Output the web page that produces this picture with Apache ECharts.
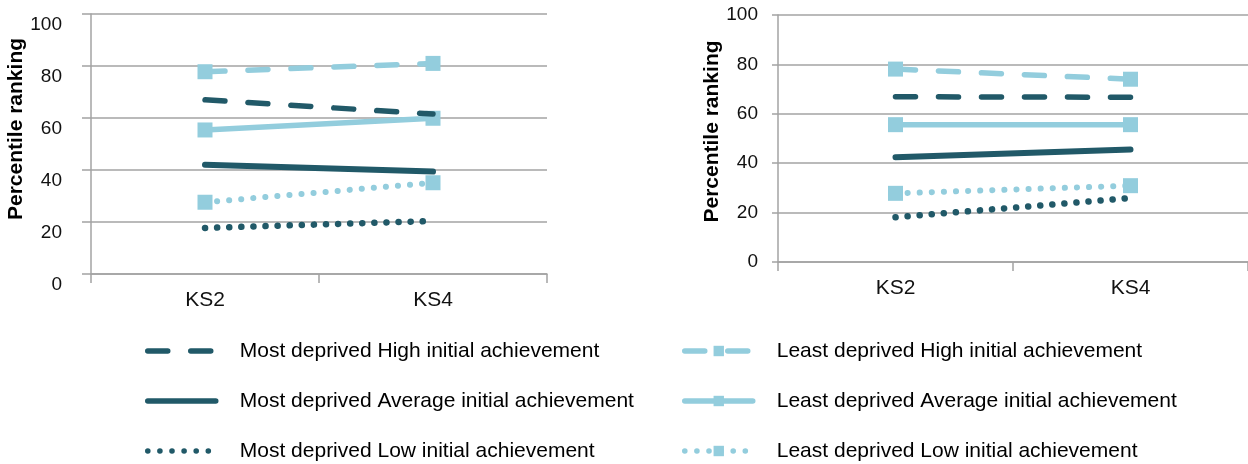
<!DOCTYPE html>
<html>
<head>
<meta charset="utf-8">
<script src="https://cdn.jsdelivr.net/npm/echarts@6/dist/echarts.min.js"></script>
<style>
html,body{margin:0;padding:0;background:#fff;}
#chart{width:1248px;height:464px;}
</style>
</head>
<body>
<div id="chart"></div>
<script>
// ---- data ----
var categories = ['KS2', 'KS4'];
var seriesNames = [
  'Most deprived High initial achievement',
  'Most deprived Average initial achievement',
  'Most deprived Low initial achievement',
  'Least deprived High initial achievement',
  'Least deprived Average initial achievement',
  'Least deprived Low initial achievement'
];
// left panel
var leftMostHigh = [67, 61.5];
var leftMostAvg = [42, 39.4];
var leftMostLow = [17.7, 20.4];
var leftLeastHigh = [77.8, 81];
var leftLeastAvg = [55.4, 59.9];
var leftLeastLow = [27.6, 35.1];
// right panel
var rightMostHigh = [66.9, 66.7];
var rightMostAvg = [42.4, 45.5];
var rightMostLow = [18.1, 25.9];
var rightLeastHigh = [78.1, 74];
var rightLeastAvg = [55.6, 55.6];
var rightLeastLow = [27.8, 30.9];
var yTicks = [0, 20, 40, 60, 80, 100];

var DARK = '#215968';
var LIGHT = '#93cddd';
var GRIDC = '#a3a3a3';

var styles = [
  {color: DARK, width: 5.5, type: [20, 23], symbol: 'none'},
  {color: DARK, width: 6, type: 'solid', symbol: 'none'},
  {color: DARK, width: 6.5, type: [0.1, 12], symbol: 'none'},
  {color: LIGHT, width: 5.5, type: [20, 23], symbol: 'rect'},
  {color: LIGHT, width: 5.5, type: 'solid', symbol: 'rect'},
  {color: LIGHT, width: 6, type: [0.1, 12], symbol: 'rect'}
];

var leftData = [leftMostHigh, leftMostAvg, leftMostLow, leftLeastHigh, leftLeastAvg, leftLeastLow];
var rightData = [rightMostHigh, rightMostAvg, rightMostLow, rightLeastHigh, rightLeastAvg, rightLeastLow];

function mkSeries(idx, data, axisIdx) {
  var s = styles[idx];
  return {
    name: seriesNames[idx],
    type: 'line',
    xAxisIndex: axisIdx,
    yAxisIndex: axisIdx,
    data: data,
    symbol: s.symbol,
    symbolSize: 15,
    showSymbol: s.symbol !== 'none',
    silent: true,
    animation: false,
    z: idx < 3 ? 3 : 2,
    itemStyle: {color: s.color},
    lineStyle: {color: s.color, width: s.width, type: s.type, cap: 'round'}
  };
}

var series = [];
for (var i = 0; i < 6; i++) series.push(mkSeries(i, leftData[i], 0));
for (var j = 0; j < 6; j++) series.push(mkSeries(j, rightData[j], 1));

var FONT = 'Liberation Sans, Arial, sans-serif';

function xAx(gi, margin) {
  return {
    type: 'category', gridIndex: gi, data: categories, boundaryGap: true,
    axisLine: {show: true, lineStyle: {color: GRIDC, width: 1.5}},
    axisTick: {show: true, length: 9, alignWithLabel: false, lineStyle: {color: GRIDC, width: 1.5}},
    axisLabel: {color: '#111', fontSize: 21, fontFamily: FONT, margin: margin},
    splitLine: {show: false}
  };
}
function yAx(gi, opts) {
  return {
    type: 'value', gridIndex: gi, min: yTicks[0], max: yTicks[yTicks.length - 1], interval: 20,
    name: 'Percentile ranking', nameLocation: 'middle', nameGap: opts.nameGap, nameRotate: 90,
    nameTextStyle: {fontSize: 21, fontWeight: 'bold', color: '#000', fontFamily: FONT, padding: opts.namePad},
    axisLine: {show: true, lineStyle: {color: GRIDC, width: 1.5}},
    axisTick: {show: true, length: opts.tick, lineStyle: {color: GRIDC, width: 1.5}},
    axisLabel: {color: '#111', fontSize: 19, fontFamily: FONT, margin: opts.margin,
      verticalAlign: opts.va, padding: opts.lpad},
    splitLine: {show: true, lineStyle: {color: GRIDC, width: 1.5}}
  };
}

var legendLeft = [145, 145, 145, 682, 682, 682];
var legendTop = [339, 389, 439, 339, 389, 439];
function legend(idx) {
  var isMost = idx < 3;
  return {
    data: [seriesNames[idx]], orient: 'vertical', left: legendLeft[idx], top: legendTop[idx],
    padding: 0,
    itemWidth: 68, itemHeight: 13, itemGap: 0,
    selectedMode: false,
    textStyle: {fontSize: 21, color: '#000', fontFamily: FONT, lineHeight: 24, padding: [0, 0, 0, 19]},
    lineStyle: {width: 5.5, cap: 'round'},
    itemStyle: isMost ? {opacity: 0} : {}
  };
}

var chart = echarts.init(document.getElementById('chart'), null, {renderer: 'canvas'});
chart.setOption({
  animation: false,
  backgroundColor: '#fff',
  grid: [
    {left: 91, top: 14, width: 456, height: 260},
    {left: 778, top: 15, width: 474, height: 247}
  ],
  xAxis: [xAx(0, 16), xAx(1, 16)],
  yAxis: [
    yAx(0, {nameGap: 63, namePad: [0, 0, 0, 30], tick: 9, margin: 29, va: 'top', lpad: [1, 0, 0, 0]}),
    yAx(1, {nameGap: 50, namePad: [0, 0, 0, 14], tick: 6, margin: 20, va: 'middle', lpad: 0})
  ],
  legend: [legend(0), legend(1), legend(2), legend(3), legend(4), legend(5)],
  series: series
});
</script>
</body>
</html>
